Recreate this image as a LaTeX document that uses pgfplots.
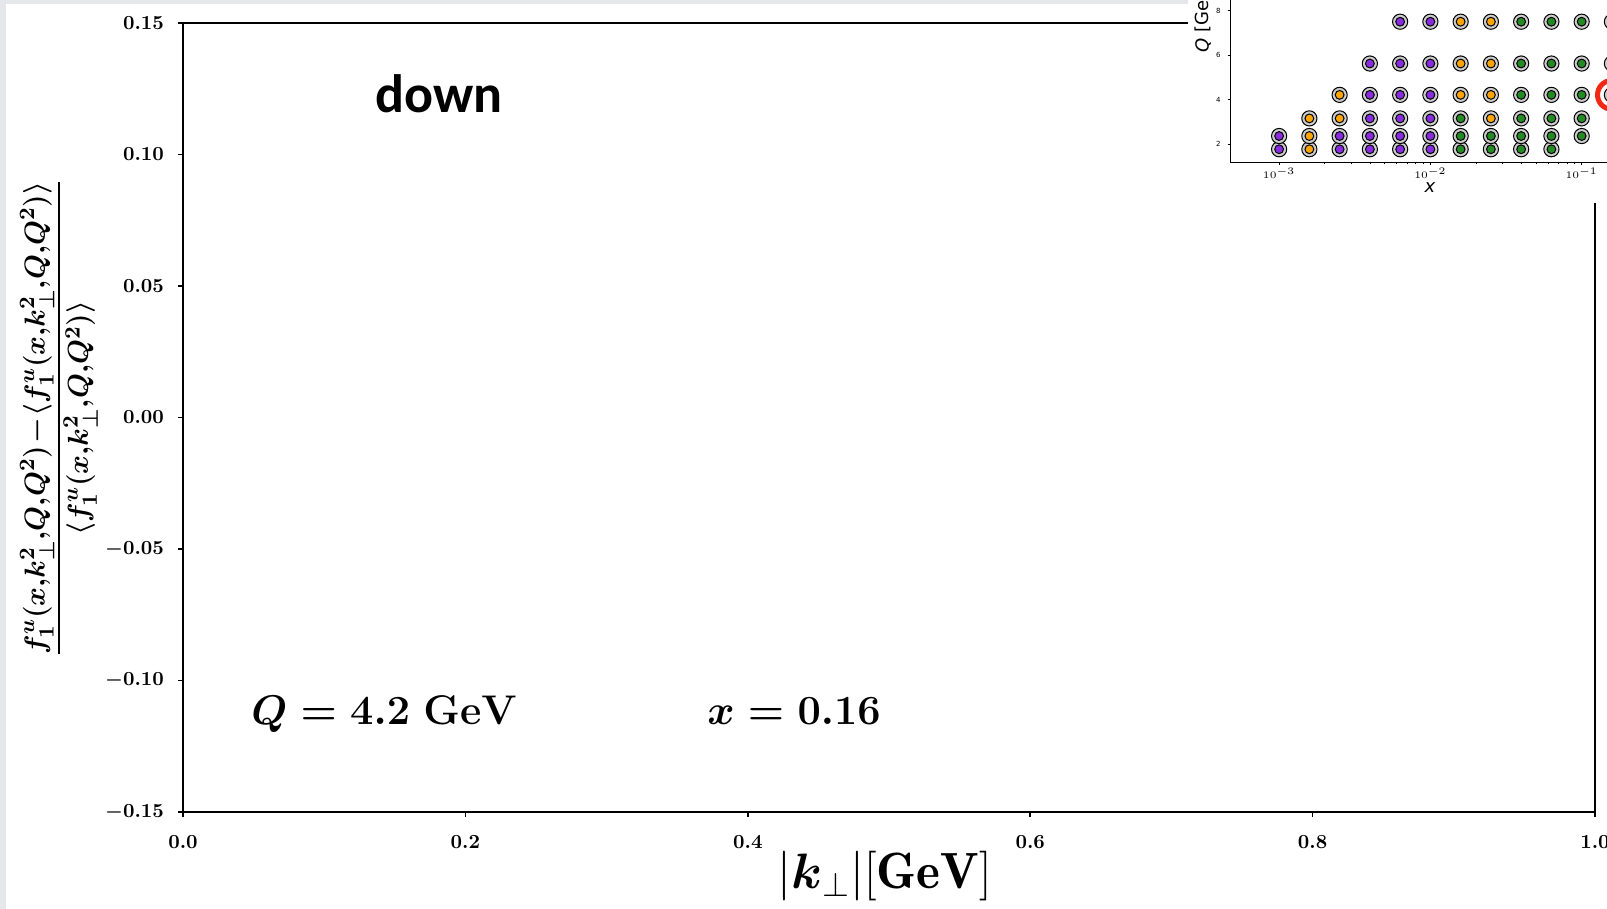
\documentclass[border=0pt]{standalone}
\usepackage{amsmath,amssymb}
\usepackage{fontspec}
\usepackage{pgfplots}
\usepackage{pgfplotstable}
\pgfplotsset{compat=1.18}
\newfontfamily\carlito{Carlito}
\newfontfamily\dejavu{DejaVu Sans}

\definecolor{bordergray}{RGB}{229,231,235}
\definecolor{cP}{RGB}{138,43,226}
\definecolor{cO}{RGB}{255,165,0}
\definecolor{cG}{RGB}{34,139,34}
\definecolor{ringgray}{RGB}{204,204,204}
\definecolor{redring}{RGB}{240,40,20}

% inset grid: x = 10^(-3+0.2k), Q rows
\pgfplotstableread{
x y c
0.001000 1.778 P
0.001585 1.778 O
0.002512 1.778 P
0.003981 1.778 P
0.006310 1.778 P
0.010000 1.778 P
0.015850 1.778 G
0.025120 1.778 G
0.039810 1.778 G
0.063100 1.778 G
}\rowA
\pgfplotstableread{
x y c
0.001000 2.371 P
0.001585 2.371 O
0.002512 2.371 P
0.003981 2.371 P
0.006310 2.371 P
0.010000 2.371 P
0.015850 2.371 G
0.025120 2.371 G
0.039810 2.371 G
0.063100 2.371 G
0.100000 2.371 G
}\rowB
\pgfplotstableread{
x y c
0.001585 3.162 O
0.002512 3.162 O
0.003981 3.162 P
0.006310 3.162 P
0.010000 3.162 P
0.015850 3.162 G
0.025120 3.162 O
0.039810 3.162 G
0.063100 3.162 G
0.100000 3.162 G
}\rowC
\pgfplotstableread{
x y c
0.002512 4.217 O
0.003981 4.217 P
0.006310 4.217 P
0.010000 4.217 P
0.015850 4.217 O
0.025120 4.217 O
0.039810 4.217 G
0.063100 4.217 G
0.100000 4.217 G
0.158500 4.217 G
}\rowD
\pgfplotstableread{
x y c
0.003981 5.623 P
0.006310 5.623 P
0.010000 5.623 P
0.015850 5.623 O
0.025120 5.623 O
0.039810 5.623 G
0.063100 5.623 G
0.100000 5.623 G
0.158500 5.623 G
}\rowE
\pgfplotstableread{
x y c
0.006310 7.499 P
0.010000 7.499 P
0.015850 7.499 O
0.025120 7.499 O
0.039810 7.499 G
0.063100 7.499 G
0.100000 7.499 G
0.158500 7.499 G
}\rowF

\pgfplotsset{
  outerring/.style={only marks, mark=*, mark size=3.8pt,
    mark options={draw=black, fill=ringgray, line width=0.5pt}},
  innerdot/.style={scatter, only marks, mark size=2.2pt,
    scatter src=explicit symbolic,
    scatter/classes={
      P={mark=*, draw=black, fill=cP, line width=0.5pt},
      O={mark=*, draw=black, fill=cO, line width=0.5pt},
      G={mark=*, draw=black, fill=cG, line width=0.5pt}}},
}

\begin{document}
\begin{tikzpicture}
\fill[white] (0,0) rectangle (803.5pt,454.5pt);
\fill[bordergray] (0,0) rectangle (3pt,454.5pt);
\fill[bordergray] (0,452.5pt) rectangle (803.5pt,454.5pt);

\begin{axis}[
  at={(91.5pt,48.5pt)}, anchor=south west,
  scale only axis, width=706pt, height=394.5pt,
  xmin=0, xmax=1, ymin=-0.15, ymax=0.15,
  xtick={0,0.2,0.4,0.6,0.8,1.0},
  ytick={-0.15,-0.10,-0.05,0,0.05,0.10,0.15},
  tick align=outside, tick pos=left,
  major tick length=2.5pt,
  every tick/.style={black, line width=0.75pt},
  axis line style={black, line width=0.75pt},
  tick label style={font=\fontsize{10}{12}\selectfont\boldmath},
  xticklabel style={yshift=-6pt, /pgf/number format/.cd, fixed, fixed zerofill, precision=1},
  yticklabel style={xshift=-3.5pt, /pgf/number format/.cd, fixed, fixed zerofill, precision=2},
  xlabel={$|\boldsymbol{k}_{\perp}|[\mathbf{GeV}]$},
  xlabel style={at={(axis description cs:0.497,-0.0976)}, anchor=base,
    inner sep=0pt, font=\fontsize{25.5}{30}\selectfont},
  ylabel={$\displaystyle\frac{f_1^u(x,\!k_{\perp}^2,\!Q,\!Q^2)\!-\!\langle f_1^u(x,\!k_{\perp}^2,\!Q,\!Q^2)\rangle}{\langle f_1^u(x,\!k_{\perp}^2,\!Q,\!Q^2)\rangle}$},
  ylabel style={at={(axis description cs:-0.0878,0.4994)}, anchor=center,
    inner sep=0pt, font=\fontsize{15.8}{19}\selectfont\boldmath},
]
\end{axis}

% annotations (picture coordinates, 1px = 0.5pt)
\node[anchor=base, inner sep=0pt, font=\carlito\bfseries\fontsize{27}{30}\selectfont]
  at (219.4pt,398.2pt) {down};
\node[anchor=base west, inner sep=0pt, font=\fontsize{22.8}{28}\selectfont\boldmath]
  at (125.5pt,92pt) {$Q = 4.2\;\mathbf{GeV}$};
\node[anchor=base west, inner sep=0pt, font=\fontsize{22.8}{28}\selectfont\boldmath]
  at (353.5pt,92pt) {$x = 0.16$};

% inset background
\fill[white] (594pt,353pt) rectangle (803.5pt,454.5pt);

\begin{axis}[
  at={(615.35pt,373.35pt)}, anchor=south west,
  scale only axis, width=213.3pt, height=92.6pt,
  xmode=log, xmin=4.786e-4, xmax=0.3162, ymin=1.193, ymax=9.5,
  axis line style={black, line width=0.5pt},
  tick align=outside, tick pos=left,
  major tick length=1.5pt, minor tick length=0.9pt,
  every tick/.style={black, line width=0.4pt},
  xtick={0.001,0.01,0.1},
  xticklabels={$10^{-3}$,$10^{-2}$,$10^{-1}$},
  ytick={2,4,6,8},
  tick label style={font=\fontsize{3.5}{4}\selectfont\dejavu},
  xticklabel style={yshift=2.5pt},
  yticklabel style={/pgf/number format/assume math mode=true},
  clip=false,
]
\addplot[outerring] table[x=x,y=y] {\rowA};
\addplot[innerdot] table[x=x,y=y,meta=c] {\rowA};
\addplot[outerring] table[x=x,y=y] {\rowB};
\addplot[innerdot] table[x=x,y=y,meta=c] {\rowB};
\addplot[outerring] table[x=x,y=y] {\rowC};
\addplot[innerdot] table[x=x,y=y,meta=c] {\rowC};
\addplot[outerring] table[x=x,y=y] {\rowD};
\addplot[innerdot] table[x=x,y=y,meta=c] {\rowD};
\addplot[outerring] table[x=x,y=y] {\rowE};
\addplot[innerdot] table[x=x,y=y,meta=c] {\rowE};
\addplot[outerring] table[x=x,y=y] {\rowF};
\addplot[innerdot] table[x=x,y=y,meta=c] {\rowF};
\addplot[only marks, mark=o, mark size=7.2pt,
  mark options={draw=redring, line width=2.5pt}] coordinates {(0.1585,4.217)};
\end{axis}

\node[rotate=90, anchor=west, inner sep=0pt] at (601.5pt,428pt)
  {\dejavu\fontsize{9}{10}\selectfont \textit{Q} [GeV]};
\node[anchor=center, inner sep=0pt] at (715pt,360.5pt)
  {\dejavu\fontsize{9}{10}\selectfont\itshape x};

\pgfresetboundingbox
\useasboundingbox (0,0) rectangle (803.5pt,454.5pt);
\end{tikzpicture}
\end{document}
